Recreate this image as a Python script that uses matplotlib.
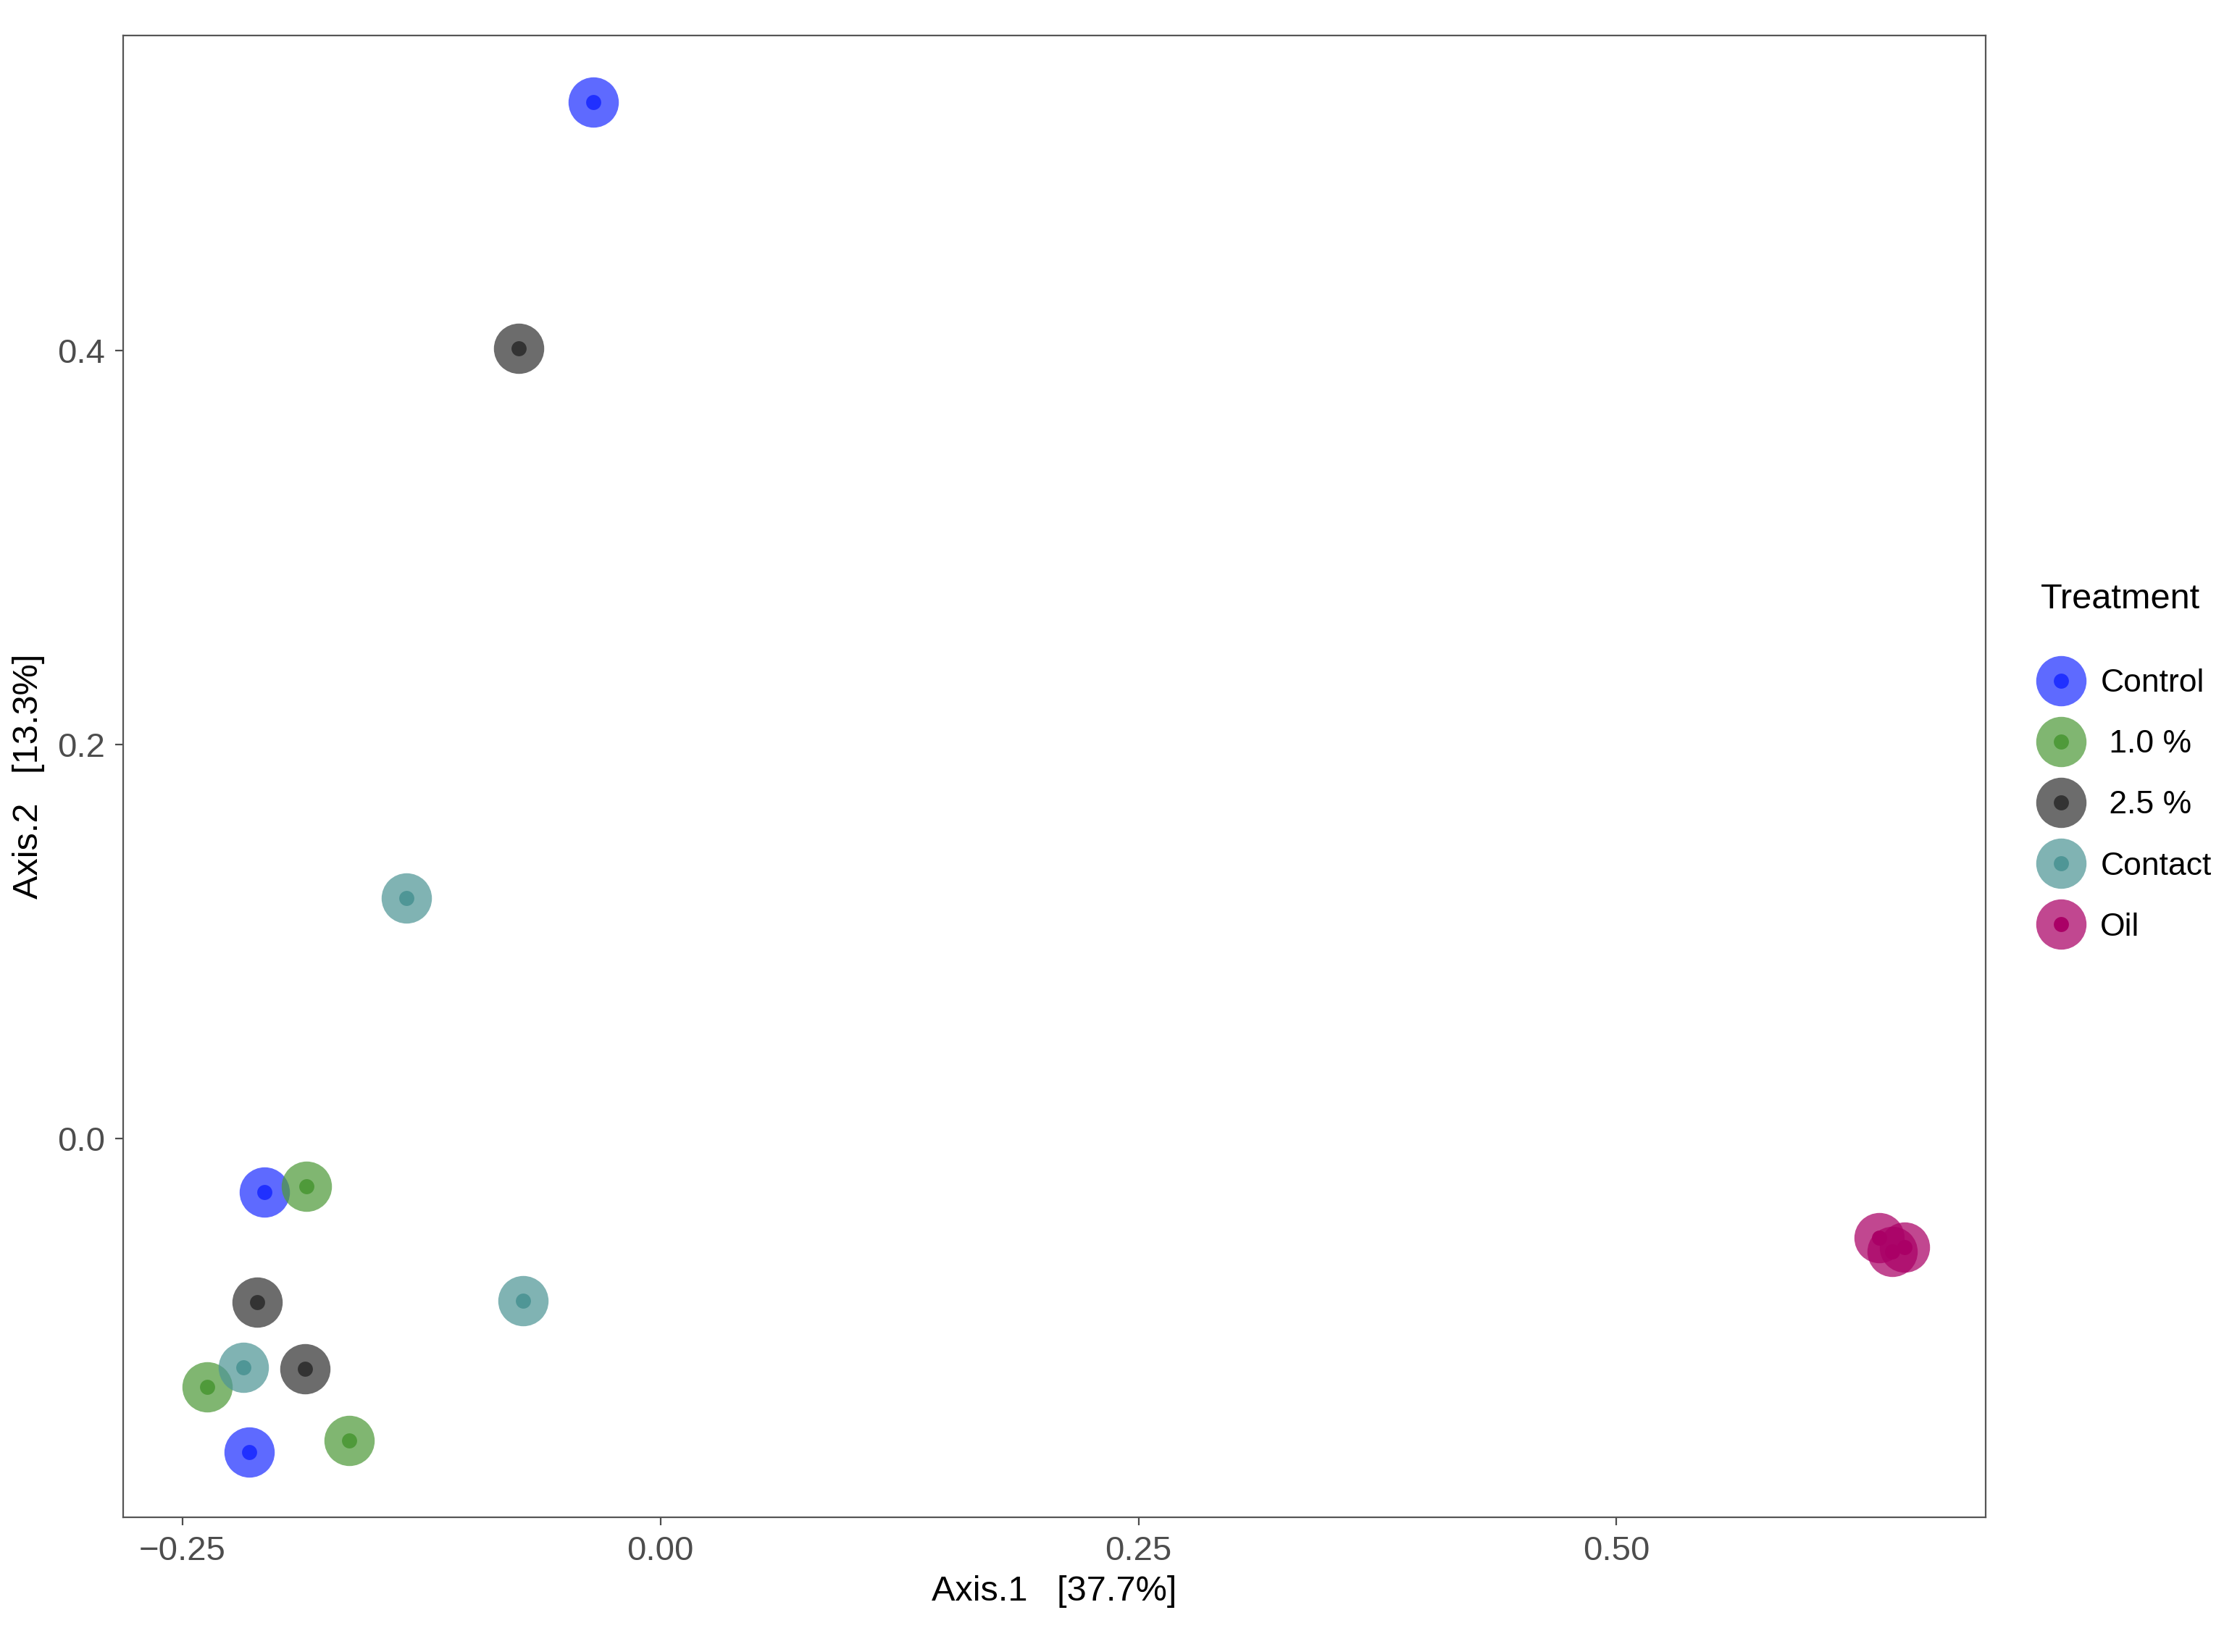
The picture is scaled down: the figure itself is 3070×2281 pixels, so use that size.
import numpy as np
import matplotlib.pyplot as plt
from matplotlib.lines import Line2D

plt.rcParams['font.family'] = ['Liberation Sans', 'DejaVu Sans']

# ordination coordinates per treatment group
groups = ['Control', ' 1.0 %', ' 2.5 %', 'Contact', 'Oil']
colors = ['#2030FF', '#4F9A3A', '#333333', '#4F9696', '#AA0066']
axis1 = {
    'Control': [-0.035, -0.207, -0.215],
    ' 1.0 %': [-0.185, -0.237, -0.163],
    ' 2.5 %': [-0.074, -0.211, -0.186],
    'Contact': [-0.133, -0.072, -0.218],
    'Oil': [0.6375, 0.644, 0.6505],
}
axis2 = {
    'Control': [0.526, -0.027, -0.159],
    ' 1.0 %': [-0.024, -0.126, -0.153],
    ' 2.5 %': [0.401, -0.083, -0.1165],
    'Contact': [0.122, -0.082, -0.116],
    'Oil': [-0.050, -0.057, -0.055],
}
xticks = [-0.25, 0.0, 0.25, 0.5]
xticklabels = ['\u22120.25', '0.00', '0.25', '0.50']
yticks = [0.0, 0.2, 0.4]
yticklabels = ['0.0', '0.2', '0.4']

fig = plt.figure(figsize=(15.35, 11.405), dpi=200)
ax = fig.add_axes([0.0554, 0.0815, 0.8374, 0.897])

big, small = 25, 7.5
for g, c in zip(groups, colors):
    ax.plot(axis1[g], axis2[g], 'o', ms=big, color=c, alpha=0.72, mew=0, zorder=2)
for g, c in zip(groups, colors):
    ax.plot(axis1[g], axis2[g], 'o', ms=small, color=c, mew=0, zorder=3)

ax.set_xlim(-0.281, 0.693)
ax.set_ylim(-0.192, 0.5597)
ax.set_xticks(xticks)
ax.set_xticklabels(xticklabels)
ax.set_yticks(yticks)
ax.set_yticklabels(yticklabels)
ax.tick_params(labelsize=17, colors='#4D4D4D', length=4, width=0.8, pad=5)
for s in ax.spines.values():
    s.set_color('#555555')
    s.set_linewidth(0.8)
ax.set_xlabel('Axis.1   [37.7%]', fontsize=17.5, labelpad=4)
ax.set_ylabel('Axis.2   [13.3%]', fontsize=17.5, labelpad=6)

handles = []
for c in colors:
    handles.append((Line2D([], [], ls='', marker='o', ms=big, color=c, alpha=0.72, mew=0),
                    Line2D([], [], ls='', marker='o', ms=small, color=c, mew=0)))
leg = ax.legend(handles, groups, title='Treatment', loc='upper left',
                bbox_to_anchor=(0.9137, 0.6417), bbox_transform=fig.transFigure,
                frameon=False, fontsize=16, title_fontsize=17.5,
                labelspacing=0.97, handletextpad=0.72, handlelength=1.0,
                borderaxespad=0)
leg._legend_box.align = 'left'
leg.get_title().set_position((-6, 30))

fig.savefig('out.png', dpi=200)
